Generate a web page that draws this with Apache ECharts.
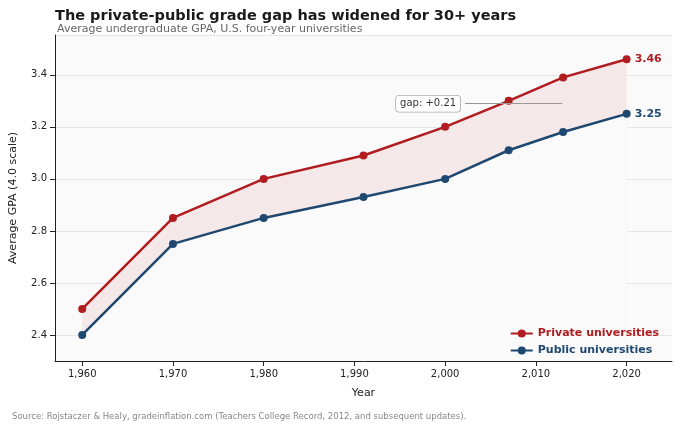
<!DOCTYPE html>
<html><head><meta charset="utf-8">
<script src="https://cdn.jsdelivr.net/npm/echarts@6/dist/echarts.min.js"></script>
<style>body{margin:0;background:#fff}#main{width:680px;height:424px}</style>
</head><body><div id="main"></div>
<script>
// data
var years = [1960, 1970, 1980, 1991, 2000, 2007, 2013, 2020];
var privateGpa = [2.50, 2.85, 3.00, 3.09, 3.20, 3.30, 3.39, 3.46];
var publicGpa = [2.40, 2.75, 2.85, 2.93, 3.00, 3.11, 3.18, 3.25];
var gapText = 'gap: +0.21';

var RED = '#b01c20', BLUE = '#1f4870';
var pts = function(vals){ return years.map(function(y,i){ return [y, vals[i]]; }); };

var chart = echarts.init(document.getElementById('main'));
chart.setOption({
  animation: false,
  textStyle: {fontFamily: 'DejaVu Sans'},
  title: [
    {text: 'The private-public grade gap has widened for 30+ years', left: 50, top: 4,
     textStyle: {fontSize: 14.5, fontWeight: 'bold', color: '#1a1a1a'}},
    {text: 'Average undergraduate GPA, U.S. four-year universities', left: 52, top: 19,
     textStyle: {fontSize: 11, fontWeight: 'normal', color: '#666'}},
    {text: 'Source: Rojstaczer & Healy, gradeinflation.com (Teachers College Record, 2012, and subsequent updates).',
     left: 7, top: 407, textStyle: {fontSize: 8.5, fontWeight: 'normal', color: '#888'}}
  ],
  grid: {left: 52, right: 8, top: 35, bottom: 63, show: true, backgroundColor: '#fafafa', borderWidth: 0},
  legend: {right: 16, top: 323, orient: 'vertical', itemGap: 6, itemWidth: 22, itemHeight: 10,
    data: ['Private universities', 'Public universities'],
    formatter: function(n){ return '{' + (n[1]==='r' ? 'r' : 'b') + '|' + n + '}'; },
    textStyle: {rich: {r: {color: RED, fontWeight: 'bold', fontSize: 11}, b: {color: BLUE, fontWeight: 'bold', fontSize: 11}}}},
  xAxis: {type: 'value', min: 1957, max: 2025, splitNumber: 7,
    name: 'Year', nameLocation: 'middle', nameGap: 27, nameTextStyle: {fontSize: 11, color: '#222'},
    axisLine: {lineStyle: {color: '#222'}}, axisTick: {show: true, lineStyle: {color: '#222'}},
    axisLabel: {color: '#222', fontSize: 10, showMinLabel: false, showMaxLabel: false},
    splitLine: {show: false}},
  yAxis: {type: 'value', min: 2.3, max: 3.553, splitNumber: 6,
    name: 'Average GPA (4.0 scale)', nameLocation: 'middle', nameGap: 36, nameTextStyle: {fontSize: 11, color: '#222'},
    axisLine: {show: true, lineStyle: {color: '#222'}}, axisTick: {show: true, lineStyle: {color: '#222'}},
    axisLabel: {color: '#222', fontSize: 10, showMinLabel: false, showMaxLabel: false,
      formatter: function(v){ return v.toFixed(1); }},
    splitLine: {lineStyle: {color: '#e6e6e6'}}},
  series: [
    {name: 'Private universities', type: 'line', data: pts(privateGpa), color: RED,
     symbol: 'circle', symbolSize: 8, lineStyle: {width: 2.5}, z: 3,
     areaStyle: {color: '#f4e8e9', opacity: 1},
     endLabel: {show: true, formatter: function(p){ return p.value[1].toFixed(2); },
       color: RED, fontWeight: 'bold', fontSize: 11, distance: 8}},
    {name: 'Public universities', type: 'line', data: pts(publicGpa), color: BLUE,
     symbol: 'circle', symbolSize: 8, lineStyle: {width: 2.5}, z: 3,
     areaStyle: {color: '#fafafa', opacity: 1},
     endLabel: {show: true, formatter: function(p){ return p.value[1].toFixed(2); },
       color: BLUE, fontWeight: 'bold', fontSize: 11, distance: 8},
     markLine: {symbol: 'none', silent: true,
       lineStyle: {color: '#999', width: 1, type: 'solid'},
       label: {show: true, position: 'start', formatter: gapText, color: '#333', fontSize: 10,
         backgroundColor: '#fff', borderColor: '#aaa', borderWidth: 0.8, borderRadius: 3, padding: [3, 4]},
       data: [[{coord: [2002.2, 3.289]}, {coord: [2012.9, 3.289]}]]}}
  ]
});
</script></body></html>
